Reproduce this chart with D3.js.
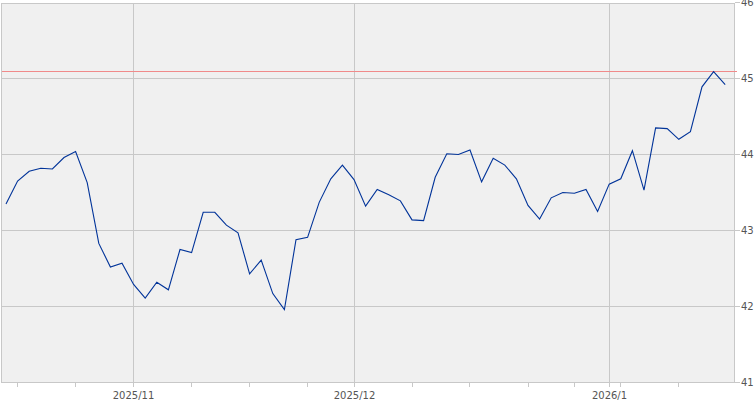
<!DOCTYPE html>
<html>
<head>
<meta charset="utf-8">
<script src="https://cdn.jsdelivr.net/npm/d3@7/dist/d3.min.js"></script>
<style>
  html, body { margin: 0; padding: 0; background: #ffffff; }
  svg { display: block; }
  text { font-family: "DejaVu Sans", Verdana, sans-serif; font-size: 10px; fill: #555555; }
</style>
</head>
<body>
<svg id="chart" width="755" height="400"></svg>
<script>
// ---- data ----
const dates = [
  "2025-10-17","2025-10-20","2025-10-21","2025-10-22","2025-10-23","2025-10-24",
  "2025-10-27","2025-10-28","2025-10-29","2025-10-30","2025-10-31",
  "2025-11-03","2025-11-04","2025-11-05","2025-11-06","2025-11-07",
  "2025-11-10","2025-11-11","2025-11-12","2025-11-13","2025-11-14",
  "2025-11-17","2025-11-18","2025-11-19","2025-11-20","2025-11-21",
  "2025-11-24","2025-11-25","2025-11-26","2025-11-28",
  "2025-12-01","2025-12-02","2025-12-03","2025-12-04","2025-12-05",
  "2025-12-08","2025-12-09","2025-12-10","2025-12-11","2025-12-12",
  "2025-12-15","2025-12-16","2025-12-17","2025-12-18","2025-12-19",
  "2025-12-22","2025-12-23","2025-12-24","2025-12-26",
  "2025-12-29","2025-12-30","2025-12-31",
  "2026-01-02",
  "2026-01-05","2026-01-06","2026-01-07","2026-01-08","2026-01-09",
  "2026-01-12","2026-01-13","2026-01-14","2026-01-15","2026-01-16"
];
const values = [
  43.35, 43.65, 43.78, 43.82, 43.81, 43.96,
  44.04, 43.63, 42.83, 42.52, 42.57,
  42.29, 42.11, 42.32, 42.22, 42.75,
  42.71, 43.24, 43.24, 43.07, 42.97,
  42.43, 42.61, 42.17, 41.96, 42.88,
  42.91, 43.37, 43.68, 43.86,
  43.67, 43.32, 43.54, 43.47, 43.39,
  43.14, 43.13, 43.70, 44.01, 44.00,
  44.06, 43.64, 43.95, 43.86, 43.68,
  43.33, 43.15, 43.43, 43.50,
  43.49, 43.54, 43.25,
  43.61,
  43.68, 44.05, 43.53, 44.35, 44.34,
  44.20, 44.30, 44.89, 45.09, 44.92
];
const yTicks = [41, 42, 43, 44, 45, 46];
const refLine = 45.09;

// ---- layout ----
const plot = { left: 1.5, right: 734.5, top: 3.5, bottom: 382.5 };
const svg = d3.select("#chart");

const parse = d3.utcParse("%Y-%m-%d");
const parsed = dates.map(parse);

const x = d3.scaleLinear().domain([0, dates.length - 1]).range([6, 6 + 11.6 * (dates.length - 1)]);
const y = d3.scaleLinear().domain([41, 46]).range([382.5, 2.5]);

// ticks derived from dates
const monthIdx = [], weekIdx = [];
parsed.forEach((d, i) => {
  if (i === 0) return;
  const p = parsed[i - 1];
  if (d.getUTCMonth() !== p.getUTCMonth()) monthIdx.push(i);
  if (d3.utcMonday.floor(d).getTime() !== d3.utcMonday.floor(p).getTime()) weekIdx.push(i);
});
const px = i => Math.floor(x(i)) + 0.5;
const fmtMonth = d => d.getUTCFullYear() + "/" + (d.getUTCMonth() + 1);

// background
svg.append("rect")
  .attr("x", plot.left).attr("y", plot.top)
  .attr("width", plot.right - plot.left).attr("height", plot.bottom - plot.top)
  .attr("fill", "#f0f0f0");

const grid = svg.append("g").attr("stroke", "#c8c8c8").attr("stroke-width", 1).attr("shape-rendering", "crispEdges");
// horizontal gridlines
grid.selectAll("line.h").data(yTicks.filter(t => t > 41 && t < 46)).join("line")
  .attr("x1", plot.left).attr("x2", plot.right)
  .attr("y1", d => y(d)).attr("y2", d => y(d));
// vertical gridlines at month starts
grid.selectAll("line.v").data(monthIdx).join("line")
  .attr("x1", d => px(d)).attr("x2", d => px(d))
  .attr("y1", plot.top).attr("y2", plot.bottom);
// frame
grid.append("rect")
  .attr("x", plot.left).attr("y", plot.top)
  .attr("width", plot.right - plot.left).attr("height", plot.bottom - plot.top)
  .attr("fill", "none");

// right axis ticks and labels
const yAxis = svg.append("g");
yAxis.selectAll("line").data(yTicks).join("line")
  .attr("x1", plot.right).attr("x2", plot.right + 5)
  .attr("y1", d => y(d)).attr("y2", d => y(d))
  .attr("stroke", "#c8c8c8").attr("shape-rendering", "crispEdges");
yAxis.selectAll("text").data(yTicks).join("text")
  .attr("x", plot.right + 6.5).attr("y", d => y(d) + 3.6)
  .text(d => d);

// bottom ticks
const allTicks = Array.from(new Set([...weekIdx, ...monthIdx])).sort((a, b) => a - b);
svg.append("g").selectAll("line").data(allTicks).join("line")
  .attr("x1", d => px(d)).attr("x2", d => px(d))
  .attr("y1", plot.bottom).attr("y2", plot.bottom + 4.5)
  .attr("stroke", "#c8c8c8").attr("shape-rendering", "crispEdges");
svg.append("g").selectAll("text").data(monthIdx).join("text")
  .attr("x", d => px(d)).attr("y", 398.5)
  .attr("text-anchor", "middle")
  .text(d => fmtMonth(parsed[d]));

// reference line
svg.append("line")
  .attr("x1", plot.left).attr("x2", plot.right + 2)
  .attr("y1", Math.floor(y(refLine)) + 0.5).attr("y2", Math.floor(y(refLine)) + 0.5)
  .attr("stroke", "#f08a8a").attr("shape-rendering", "crispEdges");

// series line
const line = d3.line().x((d, i) => x(i)).y(d => y(d));
svg.append("path")
  .datum(values)
  .attr("d", line)
  .attr("fill", "none")
  .attr("stroke", "#003399")
  .attr("stroke-width", 1.1);
</script>
</body>
</html>
